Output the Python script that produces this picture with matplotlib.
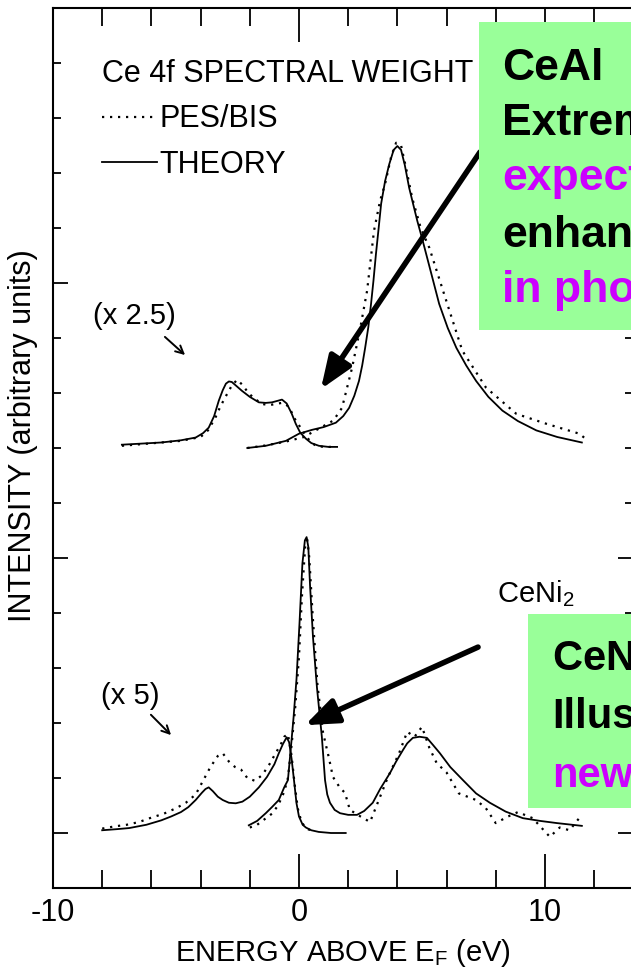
import matplotlib
matplotlib.use("Agg")
import matplotlib.pyplot as plt
from matplotlib.patches import Rectangle

plt.rcParams["font.family"] = ["Liberation Sans", "DejaVu Sans"]

# Spektri, odcitani s slike (x: eV, y: poljubne enote)

# CeAl, PES stran
ceal_pes_theory_e = [-7.2, -6.4, -5.6, -4.8, -4.2, -3.9, -3.67, -3.45, -3.26, -3.1, -2.97,
                     -2.85, -2.73, -2.55, -2.32, -2.0, -1.63, -1.35, -1.1, -0.85, -0.69,
                     -0.5, -0.3, -0.13, 0.05, 0.28, 0.5, 0.81, 1.2, 1.55]
ceal_pes_theory_i = [8.06, 8.08, 8.1, 8.14, 8.19, 8.27, 8.37, 8.58, 8.86, 9.05, 9.17,
                     9.21, 9.2, 9.13, 9.04, 8.93, 8.83, 8.82, 8.83, 8.86, 8.88,
                     8.81, 8.63, 8.44, 8.28, 8.17, 8.09, 8.04, 8.02, 8.02]
ceal_pes_data_e = [-7.2, -6.4, -5.6, -4.8, -4.0, -3.7, -3.4, -3.2, -3.0, -2.75, -2.52, -2.3,
                   -2.04, -1.75, -1.5, -1.2, -0.95, -0.7, -0.53, -0.35, -0.2, 0.05, 0.28,
                   0.5, 0.69, 1.0, 1.5]
ceal_pes_data_i = [8.04, 8.07, 8.1, 8.13, 8.2, 8.32, 8.55, 8.75, 8.92, 9.12, 9.24, 9.15,
                   8.99, 8.88, 8.8, 8.78, 8.8, 8.82, 8.8, 8.7, 8.55, 8.38, 8.22,
                   8.1, 8.04, 8.02, 8.02]

# CeAl, BIS stran
ceal_bis_theory_e = [-2.1, -1.35, -0.53, 0.0, 0.53, 1.0, 1.5, 1.8, 2.04, 2.25, 2.44, 2.57,
                     2.69, 2.82, 2.93, 3.03, 3.13, 3.24, 3.34, 3.5, 3.67, 3.85, 4.0, 4.15,
                     4.3, 4.48, 4.65, 4.81, 5.0, 5.17, 5.45, 5.7, 6.05, 6.4, 6.8, 7.2,
                     7.7, 8.27, 8.9, 9.65, 10.5, 11.5]
ceal_bis_theory_i = [8.0, 8.04, 8.13, 8.26, 8.33, 8.38, 8.46, 8.58, 8.73, 8.95, 9.22, 9.5,
                     9.82, 10.2, 10.62, 11.05, 11.53, 12.0, 12.44, 12.85, 13.16, 13.42, 13.49, 13.42,
                     13.15, 12.73, 12.42, 12.13, 11.82, 11.53, 11.05, 10.62, 10.18, 9.82, 9.5, 9.22,
                     8.93, 8.68, 8.49, 8.32, 8.2, 8.1]
ceal_bis_data_e = [-2.1, -1.3, -0.5, 0.2, 0.6, 1.0, 1.4, 1.75, 2.16, 2.5, 2.77, 3.05, 3.3,
                   3.5, 3.75, 3.95, 4.15, 4.35, 4.6, 4.95, 5.3, 5.9, 6.64, 7.6, 8.84,
                   10.06, 11.4, 11.7]
ceal_bis_data_i = [8.0, 8.05, 8.12, 8.2, 8.3, 8.4, 8.5, 8.73, 9.46, 10.2, 10.86, 11.95, 12.5,
                   12.8, 13.3, 13.55, 13.5, 13.1, 12.55, 12.0, 11.64, 10.8, 9.77, 9.1, 8.62,
                   8.44, 8.26, 8.15]

# CeNi2, PES stran
ceni2_pes_theory_e = [-8.0, -7.4, -6.9, -6.2, -5.6, -5.2, -4.8, -4.5, -4.2, -3.95, -3.8, -3.67,
                      -3.5, -3.3, -3.1, -2.85, -2.57, -2.3, -2.0, -1.63, -1.3, -1.0, -0.82,
                      -0.65, -0.5, -0.4, -0.3, -0.2, -0.1, 0.0, 0.15, 0.28, 0.5, 0.8, 1.3, 1.9]
ceni2_pes_theory_i = [1.05, 1.07, 1.09, 1.15, 1.23, 1.3, 1.38, 1.47, 1.6, 1.73, 1.8, 1.83,
                      1.76, 1.66, 1.6, 1.55, 1.54, 1.57, 1.66, 1.83, 2.02, 2.25, 2.45,
                      2.62, 2.74, 2.65, 2.35, 1.95, 1.54, 1.3, 1.15, 1.1, 1.05, 1.02, 1.0, 1.0]
ceni2_pes_data_e = [-8.0, -7.5, -7.0, -6.5, -6.0, -5.5, -5.0, -4.6, -4.2, -3.9, -3.6, -3.3,
                    -3.1, -2.85, -2.6, -2.35, -2.1, -1.8, -1.5, -1.2, -0.95, -0.75, -0.6,
                    -0.45, -0.3, -0.18, -0.05, 0.1, 0.3, 0.6]
ceni2_pes_data_i = [1.08, 1.12, 1.15, 1.2, 1.28, 1.35, 1.45, 1.55, 1.7, 1.95, 2.2, 2.4,
                    2.45, 2.3, 2.2, 2.15, 2.0, 1.95, 2.05, 2.25, 2.45, 2.6, 2.75,
                    2.8, 2.4, 1.9, 1.45, 1.2, 1.08, 1.03]

# CeNi2, BIS stran
ceni2_bis_theory_e = [-2.04, -1.7, -1.35, -1.1, -0.82, -0.6, -0.45, -0.35, -0.22, -0.1, 0.02,
                      0.14, 0.24, 0.31, 0.38, 0.45, 0.57, 0.73, 0.93, 1.06, 1.15, 1.26, 1.45,
                      1.67, 2.0, 2.36, 2.65, 3.0, 3.3, 3.7, 3.95, 4.23, 4.4, 4.63, 4.9, 5.2,
                      5.45, 5.73, 6.15, 6.67, 7.2, 7.76, 8.4, 9.1, 9.8, 10.49, 11.5]
ceni2_bis_theory_i = [1.14, 1.22, 1.36, 1.47, 1.6, 1.83, 1.96, 2.45, 3.1, 3.8, 4.8,
                      5.9, 6.32, 6.38, 6.2, 5.5, 4.56, 3.65, 2.75, 1.96, 1.7, 1.55, 1.42,
                      1.36, 1.33, 1.33, 1.4, 1.55, 1.8, 2.09, 2.3, 2.51, 2.63, 2.73, 2.75, 2.73,
                      2.6, 2.45, 2.2, 1.96, 1.72, 1.55, 1.39, 1.27, 1.22, 1.18, 1.13]
ceni2_bis_data_e = [-2.0, -1.7, -1.4, -1.1, -0.85, -0.6, -0.45, -0.3, -0.15, 0.0, 0.12, 0.25,
                    0.32, 0.42, 0.55, 0.75, 0.98, 1.22, 1.38, 1.67, 1.87, 2.07, 2.5, 2.89,
                    3.29, 3.6, 4.07, 4.4, 4.7, 5.0, 5.3, 5.6, 6.0, 6.5, 7.2, 7.6, 8.0,
                    8.5, 8.9, 9.5, 10.2, 10.6, 11.0, 11.5]
ceni2_bis_data_i = [1.1, 1.15, 1.25, 1.35, 1.5, 1.75, 2.0, 2.6, 3.3, 4.2, 5.3, 6.2,
                    6.4, 6.0, 5.0, 3.7, 2.82, 2.36, 2.02, 1.82, 1.73, 1.42, 1.3, 1.2,
                    1.65, 2.0, 2.45, 2.84, 2.75, 2.93, 2.55, 2.27, 2.1, 1.72, 1.6, 1.45, 1.18,
                    1.3, 1.38, 1.27, 0.93, 1.1, 1.05, 1.33]

x_major_ticks = [-10, 0, 10]
x_tick_labels = ["-10", "0", "10"]
x_minor_ticks = [-8, -6, -4, -2, 2, 4, 6, 8, 12]
y_major_ticks = [1, 6, 11]
y_minor_ticks = [2, 3, 4, 5, 7, 8, 9, 10, 12, 13, 14, 15]

GREEN = "#99ff99"
MAGENTA = "#cc00ff"

THEORY_STYLE = dict(color="black", lw=1.3)
DATA_STYLE = dict(color="black", lw=1.6, linestyle=(0, (1, 2.6)))


def main():
    fig = plt.figure(figsize=(6.31, 9.72), dpi=100)
    ax = fig.add_axes([53 / 631, 84 / 972, 580 / 631, 880 / 972])

    theory_line, = ax.plot(ceal_pes_theory_e, ceal_pes_theory_i, **THEORY_STYLE)
    ax.plot(ceal_bis_theory_e, ceal_bis_theory_i, **THEORY_STYLE)
    ax.plot(ceni2_pes_theory_e, ceni2_pes_theory_i, **THEORY_STYLE)
    ax.plot(ceni2_bis_theory_e, ceni2_bis_theory_i, **THEORY_STYLE)

    data_line, = ax.plot(ceal_pes_data_e, ceal_pes_data_i, **DATA_STYLE)
    ax.plot(ceal_bis_data_e, ceal_bis_data_i, **DATA_STYLE)
    ax.plot(ceni2_pes_data_e, ceni2_pes_data_i, **DATA_STYLE)
    ax.plot(ceni2_bis_data_e, ceni2_bis_data_i, **DATA_STYLE)

    ax.set_xlim(-10, 13.58)
    ax.set_ylim(0, 16)

    ax.set_xticks(x_major_ticks)
    ax.set_xticklabels(x_tick_labels)
    ax.set_xticks(x_minor_ticks, minor=True)
    ax.set_yticks(y_major_ticks)
    ax.set_yticks(y_minor_ticks, minor=True)

    ax.tick_params(axis="x", which="major", direction="in", length=24.5, width=1.3,
                   top=True, labelsize=22, pad=7)
    ax.tick_params(axis="x", which="minor", direction="in", length=13, width=1.3, top=True)
    ax.tick_params(axis="y", which="major", direction="in", length=11, width=1.3,
                   right=True, labelleft=False)
    ax.tick_params(axis="y", which="minor", direction="in", length=6, width=1.3, right=True)
    for spine in ax.spines.values():
        spine.set_linewidth(1.5)

    ax.set_ylabel("INTENSITY (arbitrary units)", fontsize=22)
    ax.yaxis.set_label_coords(-0.025, 0.514)
    ax.set_xlabel("ENERGY ABOVE E$_\\mathregular{F}$ (eV)", fontsize=21)
    ax.xaxis.set_label_coords(0.5, -0.056)

    leg = ax.legend([data_line, theory_line], ["PES/BIS", "THEORY"],
                    title="Ce 4f SPECTRAL WEIGHT", title_fontsize=22, fontsize=22,
                    loc="upper left", bbox_to_anchor=(0.084, 0.942), frameon=False,
                    alignment="left", handlelength=1.8, handletextpad=0.1,
                    labelspacing=0.5, borderpad=0, borderaxespad=0)
    leg.get_title().set_ha("left")

    ax.text(-8.37, 10.4, "(x 2.5)", fontsize=21, va="center")
    ax.annotate("", xy=(-4.63, 9.69), xytext=(-5.45, 10.02),
                arrowprops=dict(arrowstyle="->", lw=1.4, color="black",
                                shrinkA=0, shrinkB=0, mutation_scale=14))
    ax.text(-8.05, 3.49, "(x 5)", fontsize=21, va="center")
    ax.annotate("", xy=(-5.2, 2.78), xytext=(-6.02, 3.15),
                arrowprops=dict(arrowstyle="->", lw=1.4, color="black",
                                shrinkA=0, shrinkB=0, mutation_scale=14))
    ax.text(8.05, 5.2, "CeNi$_\\mathregular{2}$", fontsize=21, va="baseline")

    # debele puscice do opomb
    big_arrow = dict(arrowstyle="-|>,head_length=0.9,head_width=0.35", lw=4,
                     color="black", shrinkA=0, shrinkB=0, mutation_scale=22)
    ax.annotate("", xy=(0.89, 9.07), xytext=(7.36, 13.38), arrowprops=big_arrow)
    ax.annotate("", xy=(0.24, 2.96), xytext=(7.28, 4.38), arrowprops=big_arrow)

    # zeleni okvirji z besedilom
    fig.add_artist(Rectangle((479 / 631, 1 - 330 / 972), 0.3, 308 / 972,
                             transform=fig.transFigure, facecolor=GREEN,
                             edgecolor="none", zorder=5))
    box1_lines = ["CeAl", "Extremely", "expected", "enhancement", "in photoemission"]
    box1_colors = ["black", "black", MAGENTA, "black", MAGENTA]
    box1_base = [80, 135, 190, 247, 302]
    for text, color, y in zip(box1_lines, box1_colors, box1_base):
        fig.text(502 / 631, 1 - y / 972, text, fontsize=32, fontweight="bold",
                 color=color, va="baseline", zorder=6)

    fig.add_artist(Rectangle((528 / 631, 1 - 808 / 972), 0.3, 194 / 972,
                             transform=fig.transFigure, facecolor=GREEN,
                             edgecolor="none", zorder=5))
    box2_lines = ["CeNi$_\\mathbf{2}$", "Illustrates", "new"]
    box2_colors = ["black", "black", MAGENTA]
    box2_base = [670, 728, 787]
    for text, color, y in zip(box2_lines, box2_colors, box2_base):
        fig.text(552 / 631, 1 - y / 972, text, fontsize=30, fontweight="bold",
                 color=color, va="baseline", zorder=6)

    fig.savefig("out.png", dpi=100)


if __name__ == "__main__":
    main()
